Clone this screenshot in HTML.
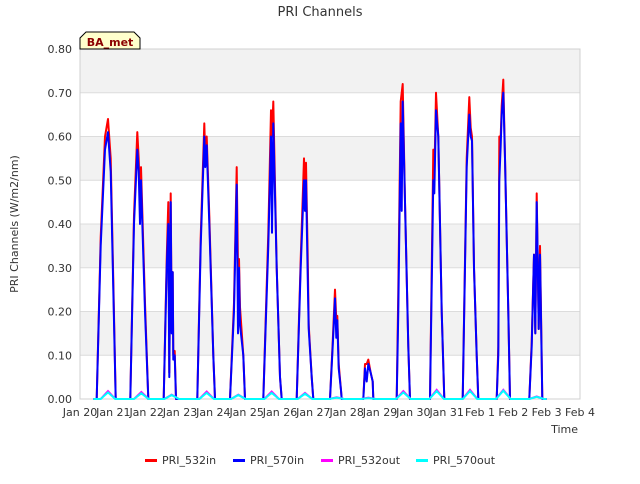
<!DOCTYPE html>
<html><head><meta charset="utf-8"><style>
body{margin:0;background:#fff;font-family:"DejaVu Sans","Liberation Sans",sans-serif;}
svg text{font-family:"DejaVu Sans","Liberation Sans",sans-serif;}
</style></head><body>
<svg id="c" width="640" height="480" xmlns="http://www.w3.org/2000/svg">
<text x="320" y="16" text-anchor="middle" font-size="13" fill="#333">PRI Channels</text>
<g id="grid"></g>
<g id="series"></g>
<g id="axes"></g>
<text transform="translate(18,224) rotate(-90)" text-anchor="middle" font-size="11" fill="#333">PRI Channels (W/m2/nm)</text>
<text x="578" y="433" text-anchor="end" font-size="11" fill="#333">Time</text>
<g>
<path d="M80,49 L80,38 L86,32 L134,32 L140,38 L140,49 Z" fill="#ffffcc" stroke="#000" stroke-width="1"/>
<text x="110" y="46" text-anchor="middle" font-size="11" font-weight="bold" fill="#8b0000">BA_met</text>
</g>
<g id="legend"></g>
</svg>
<script>
const yTicks=[0,0.1,0.2,0.3,0.4,0.5,0.6,0.7,0.8];
const xTickLabels=["Jan 20","Jan 21","Jan 22","Jan 23","Jan 24","Jan 25","Jan 26","Jan 27","Jan 28","Jan 29","Jan 30","Jan 31","Feb 1","Feb 2","Feb 3","Feb 4"];
const tDays=[0.50,0.62,0.75,0.84,0.92,1.0,1.07, 1.51,1.62,1.72,1.76,1.80,1.83,1.95,2.05, 2.51,2.6,2.65,2.68,2.72,2.75,2.78,2.80,2.84,2.88, 3.52,3.62,3.73,3.76,3.80,3.88,4.0,4.05, 4.5,4.62,4.70,4.74,4.77,4.80,4.9,4.95, 5.5,5.65,5.73,5.76,5.80,5.9,6.0,6.05, 6.5,6.62,6.72,6.75,6.78,6.83,6.86,6.95,7.0, 7.5,7.58,7.65,7.69,7.72,7.76,7.83,7.85, 8.5,8.55,8.6,8.65,8.72,8.78,8.8, 9.5,9.55,9.62,9.65,9.68,9.75,9.85,9.9, 10.5,10.6,10.63,10.68,10.75,10.85,10.93, 11.48,11.6,11.68,11.72,11.76,11.82,11.9,11.95, 12.5,12.55,12.58,12.62,12.65,12.7,12.75,12.85,12.9, 13.48,13.55,13.62,13.66,13.70,13.73,13.76,13.8,13.87];
const in570=[0,0.35,0.57,0.61,0.52,0.25,0, 0,0.40,0.57,0.52,0.40,0.50,0.20,0, 0,0.30,0.40,0.05,0.45,0.15,0.29,0.09,0.10,0, 0,0.35,0.60,0.53,0.58,0.40,0.10,0, 0,0.20,0.49,0.15,0.30,0.17,0.10,0, 0,0.35,0.60,0.38,0.63,0.30,0.05,0, 0,0.30,0.50,0.43,0.50,0.28,0.16,0.05,0, 0,0.12,0.23,0.14,0.18,0.07,0.02,0, 0,0.07,0.04,0.08,0.06,0.04,0, 0,0.20,0.63,0.43,0.68,0.45,0.12,0, 0,0.50,0.47,0.66,0.60,0.20,0, 0,0.53,0.65,0.60,0.59,0.30,0.10,0, 0,0.10,0.50,0.58,0.65,0.70,0.55,0.20,0, 0,0.12,0.33,0.15,0.45,0.32,0.16,0.33,0];
const in532=[0,0.37,0.60,0.64,0.55,0.27,0, 0,0.42,0.61,0.55,0.45,0.53,0.22,0, 0,0.32,0.45,0.06,0.47,0.16,0.29,0.10,0.11,0, 0,0.37,0.63,0.55,0.60,0.42,0.10,0, 0,0.22,0.53,0.30,0.32,0.21,0.10,0, 0,0.38,0.66,0.60,0.68,0.30,0.05,0, 0,0.32,0.55,0.44,0.54,0.33,0.17,0.05,0, 0,0.13,0.25,0.18,0.19,0.08,0.02,0, 0,0.08,0.08,0.09,0.06,0.04,0, 0,0.25,0.68,0.70,0.72,0.45,0.12,0, 0,0.57,0.50,0.70,0.60,0.20,0, 0,0.55,0.69,0.62,0.60,0.30,0.10,0, 0,0.12,0.60,0.60,0.67,0.73,0.55,0.20,0, 0,0.13,0.33,0.15,0.47,0.32,0.16,0.35,0];
const outDays=[0.84,1.84,2.75,3.8,4.75,5.75,6.75,7.7,8.65,9.7,10.7,11.7,12.7,13.7];
const out532=[0.018,0.016,0.010,0.017,0.010,0.017,0.014,0.004,0.003,0.018,0.021,0.021,0.021,0.006];
const out570=[0.015,0.013,0.009,0.014,0.009,0.014,0.012,0.003,0.002,0.015,0.018,0.018,0.019,0.005];
const NS="http://www.w3.org/2000/svg";
const X0=80,X1=580,Y0=399,Y1=49;
const xs=d=>X0+d*(X1-X0)/15;
const ys=v=>Y0-v*(Y0-Y1)/0.8;
function mk(tag,attrs,parent){const e=document.createElementNS(NS,tag);for(const k in attrs)e.setAttribute(k,attrs[k]);parent.appendChild(e);return e;}
const grid=document.getElementById('grid'),axes=document.getElementById('axes'),ser=document.getElementById('series'),leg=document.getElementById('legend');
for(let i=0;i<yTicks.length-1;i++){if(i%2===1){const r=mk('rect',{x:X0,y:ys(yTicks[i+1]),width:X1-X0,height:ys(yTicks[i])-ys(yTicks[i+1]),fill:'#f2f2f2'},grid);

}}
yTicks.forEach(v=>{const l=mk('line',{x1:X0,x2:X1,y1:ys(v),y2:ys(v),stroke:'#dcdcdc','stroke-width':1},grid);


const t=mk('text',{x:X0-8,y:ys(v)+4,'text-anchor':'end','font-size':11,fill:'#333'},axes);t.textContent=v.toFixed(2);

});
const fr=mk('rect',{x:X0,y:Y1,width:X1-X0,height:Y0-Y1,fill:'none',stroke:'#d0d0d0'},grid);


xTickLabels.forEach((s,i)=>{const t=mk('text',{x:xs(i),y:416,'text-anchor':'middle','font-size':11,fill:'#333'},axes);t.textContent=s;

});
function pathFrom(ts,vs){let d='M'+xs(0.4)+','+ys(0);ts.forEach((t,i)=>{d+=' L'+xs(t).toFixed(1)+','+ys(vs[i]).toFixed(1);});d+=' L'+xs(14)+','+ys(0);return d;}
function outPath(vals){let d='M'+xs(0.4)+','+ys(0);outDays.forEach((c,i)=>{d+=' L'+xs(c-0.22)+','+ys(0)+' L'+xs(c)+','+ys(vals[i])+' L'+xs(c+0.22)+','+ys(0);});d+=' L'+xs(14)+','+ys(0);return d;}
const p1=mk('path',{d:pathFrom(tDays,in532),fill:'none',stroke:'#ff0000','stroke-width':2,'stroke-linejoin':'round'},ser);


const p2=mk('path',{d:pathFrom(tDays,in570),fill:'none',stroke:'#0000ff','stroke-width':2,'stroke-linejoin':'round'},ser);


const p3=mk('path',{d:outPath(out532),fill:'none',stroke:'#ff00ff','stroke-width':2},ser);


const p4=mk('path',{d:outPath(out570),fill:'none',stroke:'#00ffff','stroke-width':2},ser);


const legItems=[["PRI_532in","#ff0000",145],["PRI_570in","#0000ff",233],["PRI_532out","#ff00ff",321],["PRI_570out","#00ffff",416]];
legItems.forEach(([n,c,x])=>{const g=mk('g',{},leg);


mk('rect',{x:x,y:459,width:12,height:3,fill:c},g);
const t=mk('text',{x:x+17,y:464,'font-size':11,fill:'#333'},g);t.textContent=n;});
</script>
</body></html>
